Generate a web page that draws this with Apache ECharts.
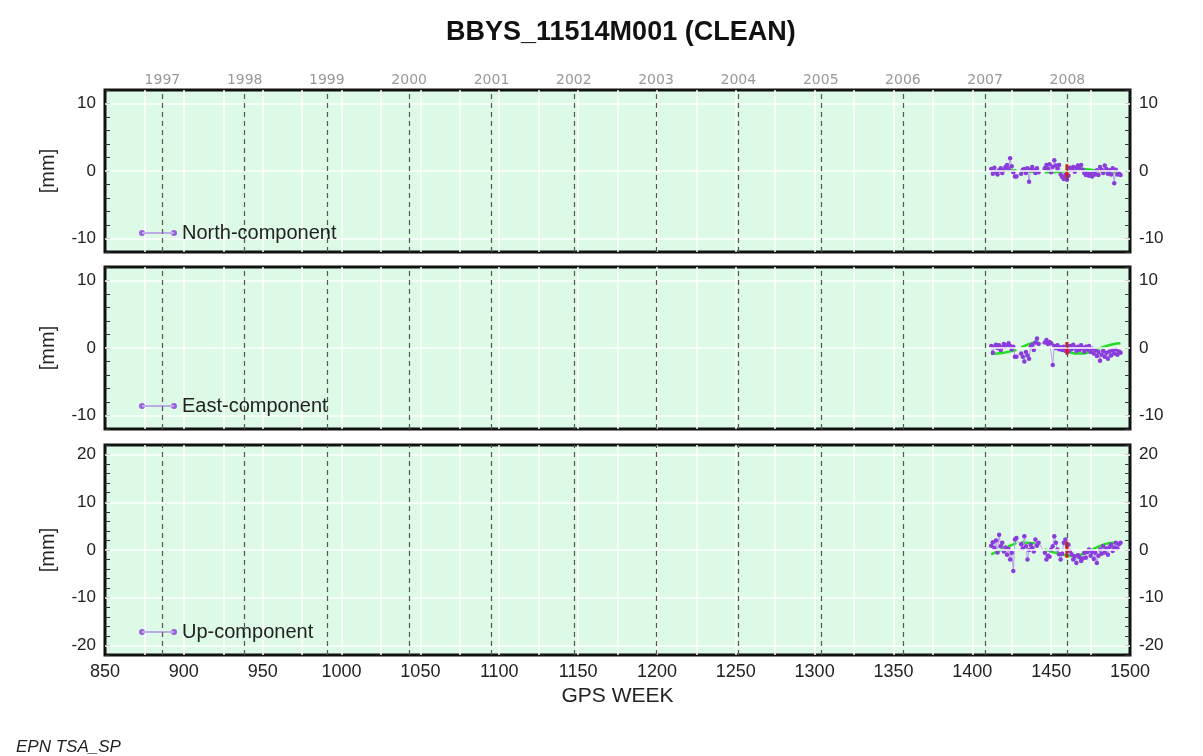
<!DOCTYPE html>
<html>
<head>
<meta charset="utf-8">
<script src="https://cdn.jsdelivr.net/npm/echarts@6/dist/echarts.min.js"></script>
<style>
html,body{margin:0;padding:0;background:#fff;}
#chart{width:1203px;height:756px;}
</style>
</head>
<body>
<div id="chart"></div>
<script>
// ---------------- DATA ----------------
const titleText = 'BBYS_11514M001 (CLEAN)';
const seriesNames = ['North-component', 'East-component', 'Up-component'];

const weeks = [1412,1413,1414,1415,1416,1417,1418,1419,1420,1421,1422,1423,1424,1425,1426,1427,1428,
  1431,1432,1433,1434,1435,1436,1437,1438,1439,1440,1441,1442,
  1446,1447,1448,1449,1450,1451,1452,1453,1454,1455,1456,1457,1458,1459,1460,1461,1462,1463,1464,1465,
  1466,1467,1468,1469,1470,1471,1472,1473,1474,1475,1476,1477,1478,1479,1480,1481,1482,1483,1484,1485,
  1486,1487,1488,1489,1490,1491,1492,1493,1494];

const northVals = [0.3,-0.4,0.5,-0.2,-0.5,0.1,0.4,-0.3,0.2,0.6,0.9,0.3,1.9,0.7,-0.2,-0.8,-0.8,
  -0.4,0.2,0.3,-0.3,0.4,-1.6,0.2,0.6,0.1,-0.3,0.4,-0.2,
  0.4,0.9,0.3,1.0,-0.2,0.6,1.6,0.8,0.3,0.9,-0.5,-0.9,-1.2,-0.6,-1.3,-0.7,0.5,0.2,0.6,-0.1,
  0.5,0.8,0.4,0.9,0.2,-0.3,-0.6,-0.2,-0.7,-0.4,-0.8,-0.2,-0.5,0.1,-0.6,0.6,0.2,-0.3,0.8,0.3,
  -0.4,0.1,-0.5,0.4,-1.8,0.2,-0.5,-0.3,-0.6];

const eastVals = [0.3,-0.7,0.2,0.5,0.0,0.4,-0.3,0.1,0.6,0.2,0.4,0.7,0.3,-0.2,0.2,-1.3,-1.3,
  -0.8,-1.3,-2.0,-0.6,-1.1,-1.6,0.2,0.5,-0.3,0.8,1.4,0.6,
  0.8,1.2,0.6,0.9,0.7,-2.5,0.3,0.0,0.4,-0.2,0.1,-0.3,0.2,-0.4,0.0,-0.5,0.3,-0.2,0.5,0.1,
  -0.4,0.2,-0.3,0.4,0.0,-0.5,0.2,-0.2,0.3,-0.6,-0.1,-0.8,-0.3,-1.2,-0.6,-1.9,-1.0,-0.4,-1.3,-0.7,
  -1.6,-0.5,-1.1,-0.3,-0.8,-0.2,-1.0,-0.5,-0.7];

const upVals = [0.9,1.6,0.4,2.0,-0.5,3.2,0.8,1.5,-0.3,0.5,-1.0,0.2,-2.0,-0.6,-4.4,2.2,2.5,
  1.2,0.3,2.9,0.8,-2.0,0.0,1.1,0.4,-0.3,2.2,0.9,1.5,
  -0.6,-2.0,-1.2,-1.4,0.1,0.8,2.9,1.5,0.1,-0.9,-2.0,-0.8,1.5,2.2,0.9,1.1,-0.2,-0.9,-2.0,-1.3,
  -2.7,-1.1,-1.5,-2.3,-1.8,-0.6,-1.6,-0.4,0.1,-1.2,-0.4,-1.9,-0.6,-2.7,-1.2,0.1,-0.8,0.8,-0.5,0.3,
  -1.0,0.6,1.1,-0.2,0.5,1.5,0.3,1.2,1.5];

// fitted model (green), null = break between data segments
const modelWeeks = [1412,1416,1420,1424,1428,null,1431,1435,1439,1442,null,1446,1450,1455,1460,1465,1470,1475,1480,1485,1490,1494];
const modelNorth = [-0.1,0.0,0.1,0.1,0.1,null,0.0,-0.1,-0.1,-0.1,null,-0.2,-0.2,-0.1,0.0,0.2,0.3,0.2,0.0,-0.1,-0.2,-0.3];
const modelEast  = [-0.9,-0.8,-0.7,-0.5,-0.3,null,0.1,0.5,0.8,1.0,null,0.9,0.6,0.1,-0.4,-0.8,-0.8,-0.5,-0.1,0.3,0.6,0.7];
const modelUp    = [-0.9,-0.3,0.3,0.9,1.5,null,1.6,1.5,1.4,1.2,null,0.1,-0.3,-0.8,-1.2,-1.3,-0.8,-0.1,0.7,1.3,1.5,1.3];

// offset / discontinuity bar (red)
const offsetWeek = 1460;
const offsetNorth = [-1.1, 1.0];
const offsetEast = [-1.0, 0.9];
const offsetUp = [-1.6, 1.8];

// year boundaries in GPS weeks (top labels)
const yearLabels = ['1997','1998','1999','2000','2001','2002','2003','2004','2005','2006','2007','2008'];
const yearWeeks = [886.4, 938.6, 990.7, 1042.9, 1095.1, 1147.3, 1199.4, 1251.6, 1303.9, 1356.0, 1408.1, 1460.3];

// axis ranges / ticks
const xRange = [850, 1500];
const xTickStep = 50;
const yRanges = [[-12, 12], [-12, 12], [-22, 22]];
const yMajorTicks = [[-10, 0, 10], [-10, 0, 10], [-20, -10, 0, 10, 20]];
const xAxisName = 'GPS WEEK';
const yAxisName = '[mm]';
const footerText = 'EPN TSA_SP';

// ---------------- LAYOUT ----------------
const FONT = '"Liberation Sans", Arial, sans-serif';
const grids = [
  {left: 105, top: 90, width: 1025, height: 162},
  {left: 105, top: 267, width: 1025, height: 162},
  {left: 105, top: 445, width: 1025, height: 210}
];
const legendTops = [223, 396, 622];
const valsList = [northVals, eastVals, upVals];
const modelList = [modelNorth, modelEast, modelUp];
const offsetList = [offsetNorth, offsetEast, offsetUp];

const PURPLE = '#8a3ddc';
const LINEPURPLE = '#b89ce8';
const GREEN = '#22dd22';
const BG = '#dcfae6';

const chart = echarts.init(document.getElementById('chart'), null, {renderer: 'canvas'});

const xAxes = [], yAxes = [], series = [], legends = [];
grids.forEach((g, i) => {
  const isBottom = i === grids.length - 1;
  xAxes.push({
    type: 'value', gridIndex: i, min: xRange[0], max: xRange[1], interval: xTickStep,
    axisLine: {show: false}, axisTick: {show: false},
    axisLabel: {show: isBottom, fontSize: 18, color: '#222', fontFamily: FONT, margin: 8,
      formatter: v => String(v)},
    splitLine: {show: true, showMinLine: false, showMaxLine: false, lineStyle: {color: '#ffffff', width: 1.5}},
    minorTick: {show: false, splitNumber: 2},
    minorSplitLine: {show: true, lineStyle: {color: '#ffffff', width: 1.5}},
    name: isBottom ? xAxisName : '', nameLocation: 'middle', nameGap: 31,
    nameTextStyle: {fontSize: 21, color: '#222', fontFamily: FONT}
  });
  ['left', 'right'].forEach(pos => {
    yAxes.push({
      type: 'value', gridIndex: i, position: pos,
      min: yRanges[i][0], max: yRanges[i][1], interval: 2,
      axisLine: {show: false},
      axisTick: {show: true, inside: true, length: 5, lineStyle: {color: '#333', width: 1}},
      axisLabel: {fontSize: 17, color: '#222', fontFamily: FONT, margin: 9,
        formatter: v => (v % 10 === 0 ? String(v) : '')},
      splitLine: {show: false},
      name: pos === 'left' ? yAxisName : '', nameLocation: 'middle', nameGap: 47, nameRotate: 90,
      nameTextStyle: {fontSize: 20, color: '#222', fontFamily: FONT}
    });
  });
  const yLeft = i * 2;
  // helper series carrying reference lines
  series.push({
    type: 'line', xAxisIndex: i, yAxisIndex: yLeft, data: [], silent: true, z: 1,
    markLine: {
      silent: true, symbol: 'none', animation: false, precision: 3,
      data: [
        ...yMajorTicks[i].map(v => ({yAxis: v, lineStyle: {type: 'solid', color: '#ffffff', width: 1.5}, label: {show: false}})),
        ...yearWeeks.map((w, k) => ({
          xAxis: w, name: yearLabels[k],
          lineStyle: {type: [5, 4], color: '#555', width: 1.2},
          label: i === 0 ? {show: true, position: 'end', formatter: '{b}', color: '#999', fontSize: 14,
                            fontFamily: '"DejaVu Sans", sans-serif', distance: 3}
                         : {show: false}
        }))
      ]
    }
  });
  // fitted model
  series.push({
    type: 'line', xAxisIndex: i, yAxisIndex: yLeft, z: 2, silent: true,
    data: modelWeeks.map((w, k) => (w === null ? '-' : [w, modelList[i][k]])),
    showSymbol: false, smooth: 0.4, connectNulls: false,
    lineStyle: {color: GREEN, width: 2.5}
  });
  // observations
  series.push({
    name: seriesNames[i], type: 'line', xAxisIndex: i, yAxisIndex: yLeft, z: 3,
    data: weeks.map((w, k) => [w, valsList[i][k]]),
    symbol: 'circle', symbolSize: 4.5, showSymbol: true,
    itemStyle: {color: PURPLE},
    lineStyle: {color: LINEPURPLE, width: 1}
  });
  // offset bar
  series.push({
    type: 'line', xAxisIndex: i, yAxisIndex: yLeft, z: 4, silent: true,
    data: offsetList[i].map(v => [offsetWeek, v]),
    showSymbol: false, lineStyle: {color: '#ee1111', width: 3}
  });
  legends.push({
    data: [seriesNames[i]], left: 139, top: legendTops[i], padding: 0, z: 10,
    orient: 'horizontal', selectedMode: false,
    icon: 'path://M0,3a3,3 0 1,0 6,0a3,3 0 1,0 -6,0zM3,2.5h32v1h-32zM32,3a3,3 0 1,0 6,0a3,3 0 1,0 -6,0z',
    itemWidth: 38, itemHeight: 6, itemGap: 10,
    itemStyle: {color: '#9a60e0'},
    textStyle: {fontSize: 20, color: '#222', fontFamily: FONT}
  });
});

chart.setOption({
  animation: false,
  backgroundColor: '#ffffff',
  title: [
    {text: titleText, left: 441, top: 14,
     textStyle: {fontSize: 27, fontWeight: 'bold', color: '#111', fontFamily: FONT}},
    {text: footerText, left: 11, top: 734,
     textStyle: {fontSize: 17, fontStyle: 'italic', fontWeight: 'normal', color: '#222', fontFamily: FONT}}
  ],
  grid: grids.map(g => Object.assign({show: true, backgroundColor: BG, borderColor: '#111', borderWidth: 3}, g)),
  xAxis: xAxes,
  yAxis: yAxes,
  legend: legends,
  series: series
});
</script>
</body>
</html>
